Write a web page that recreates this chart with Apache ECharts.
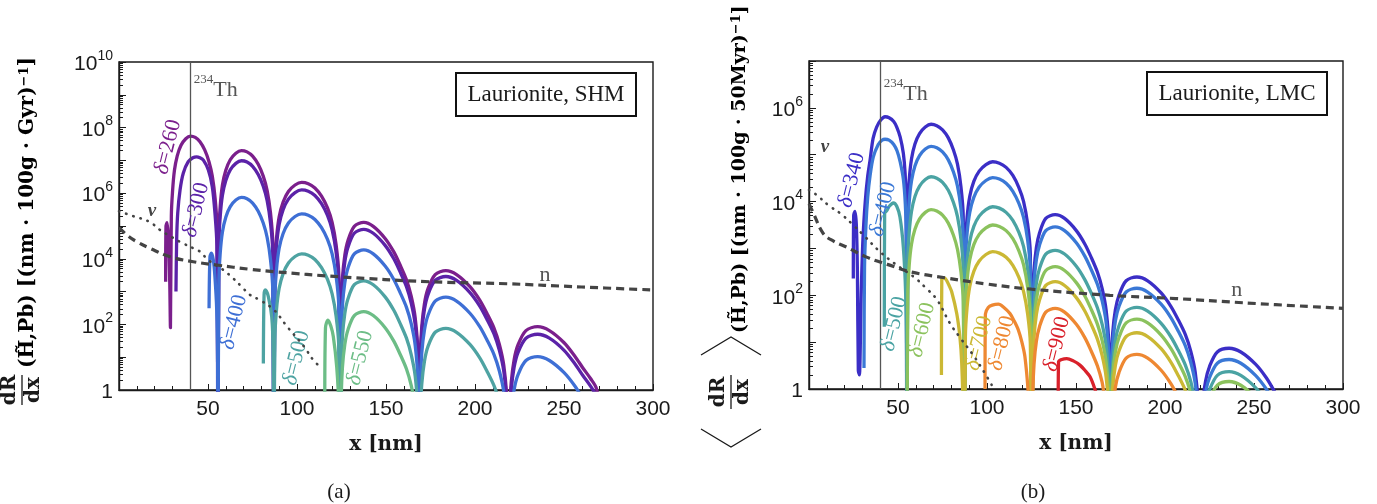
<!DOCTYPE html>
<html><head><meta charset="utf-8">
<script src="https://cdn.jsdelivr.net/npm/echarts@6/dist/echarts.min.js"></script>
<style>html,body{margin:0;padding:0;background:#fff}#c{width:1377px;height:504px}</style>
</head><body><div id="c"></div><script>
// ---- tick labels ----
const xTicks = [0, 50, 100, 150, 200, 250, 300];
const minorMultipliers = [2, 3, 4, 5, 6, 7, 8, 9];
const leftDecades = 10;   // 1 .. 1e10
const rightDecades = 7;   // 1 .. 1e7
const leftLabelExps = [0, 2, 4, 6, 8, 10];
const rightLabelExps = [0, 2, 4, 6];

// ---- curves: [x (nm), log10 of rate] ----
// panel (a) Laurionite, SHM
const shm260 = [[26.2,3.3],[26.4,5.0],[27.0,5.1],[27.8,4.6],[28.5,3.3],[28.9,1.9],
[29.4,5.3],[30.06,6.04],[31.13,6.69],[32.72,7.14],[34.85,7.46],[37.51,7.66],[40.17,7.74],[42.83,7.70],[45.49,7.57],[48.15,7.32],[50.55,6.96],[52.41,6.52],[54.0,5.84],[55.07,4.94],[55.6,-3],
[56.07,4.70],[56.86,5.60],[58.11,6.25],[60.0,6.70],[62.51,7.02],[65.65,7.22],[68.79,7.30],[71.93,7.26],[75.07,7.13],[78.21,6.88],[81.03,6.52],[83.23,6.08],[85.12,5.40],[86.37,4.50],[87.0,-3],
[87.56,3.73],[88.49,4.63],[89.98,5.28],[92.21,5.73],[95.18,6.05],[98.9,6.25],[102.62,6.33],[106.34,6.29],[110.06,6.16],[113.78,5.91],[117.13,5.55],[119.74,5.11],[121.97,4.43],[123.46,3.53],[124.2,-3],
[124.87,2.51],[125.53,3.41],[126.86,4.11],[128.64,4.56],[132.19,4.99],[137.52,5.11],[142.85,4.99],[149.51,4.62],[154.39,4.21],[157.94,3.81],[161.5,3.36],[164.16,2.86],[166.38,2.21],[167.93,1.11],[168.6,-3],
[169.35,1.04],[170.1,1.94],[171.61,2.64],[173.61,3.09],[177.62,3.52],[183.63,3.64],[189.64,3.52],[197.16,3.15],[202.67,2.74],[206.68,2.34],[210.68,1.89],[213.69,1.39],[216.2,0.74],[217.95,-0.36],[218.7,-3],
[219.53,-0.67],[220.35,0.23],[222.0,0.93],[224.2,1.38],[228.6,1.81],[235.2,1.93],[241.8,1.81],[250.05,1.44],[256.1,1.03],[260.5,0.68],[264.9,0.35],[268.2,0.05],[270.95,-0.8]];
const shm300 = [[32.0,3.0],[32.4,4.6],[33.0,5.4],[34.3,6.1],[36.1,6.61],[38.9,6.96],[41.5,7.08],[43.6,7.11],[45.5,7.08],[47.4,7.01],[50.2,6.71],[52.4,6.2],[53.9,5.4],[55.0,4.4],[55.6,-3],
[56.07,4.39],[56.86,5.29],[58.11,5.94],[60.0,6.39],[62.51,6.71],[65.65,6.91],[68.79,6.99],[71.93,6.95],[75.07,6.82],[78.21,6.57],[81.03,6.21],[83.23,5.77],[85.12,5.09],[86.37,4.19],[87.0,-3],
[87.56,3.50],[88.49,4.40],[89.98,5.05],[92.21,5.50],[95.18,5.82],[98.9,6.02],[102.62,6.10],[106.34,6.06],[110.06,5.93],[113.78,5.68],[117.13,5.32],[119.74,4.88],[121.97,4.20],[123.46,3.30],[124.2,-3],
[124.87,2.30],[125.53,3.20],[126.86,3.90],[128.64,4.35],[132.19,4.78],[137.52,4.90],[142.85,4.78],[149.51,4.41],[154.39,4.00],[157.94,3.60],[161.5,3.15],[164.16,2.65],[166.38,2.00],[167.93,0.90],[168.6,-3],
[169.35,0.86],[170.1,1.76],[171.61,2.46],[173.61,2.91],[177.62,3.34],[183.63,3.46],[189.64,3.34],[197.16,2.97],[202.67,2.56],[206.68,2.16],[210.68,1.71],[213.69,1.21],[216.2,0.56],[217.95,-0.54],[218.7,-3],
[219.53,-0.9],[220.35,0.0],[222.0,0.70],[224.2,1.15],[228.6,1.58],[235.2,1.70],[241.8,1.58],[250.05,1.21],[256.1,0.80],[260.5,0.45],[264.9,0.12],[268.2,-0.2],[270.95,-0.9]];
const shm400 = [[50.6,2.49],[51.1,4.06],[51.9,4.17],[53.0,3.96],[53.9,3.45],[54.9,2.44],[55.4,0.9],[55.6,-3],
[56.07,3.27],[56.86,4.17],[58.11,4.82],[60.0,5.27],[62.51,5.59],[65.65,5.79],[68.79,5.87],[71.93,5.83],[75.07,5.70],[78.21,5.45],[81.03,5.09],[83.23,4.65],[85.12,3.97],[86.37,3.07],[87.0,-3],
[87.56,2.77],[88.49,3.67],[89.98,4.32],[92.21,4.77],[95.18,5.09],[98.9,5.29],[102.62,5.37],[106.34,5.33],[110.06,5.20],[113.78,4.95],[117.13,4.59],[119.74,4.15],[121.97,3.47],[123.46,2.57],[124.2,-3],
[124.87,1.67],[125.53,2.57],[126.86,3.27],[128.64,3.72],[132.19,4.15],[137.52,4.27],[142.85,4.15],[149.51,3.78],[154.39,3.37],[157.94,2.97],[161.5,2.52],[164.16,2.02],[166.38,1.37],[167.93,0.27],[168.6,-3],
[169.35,0.23],[170.1,1.13],[171.61,1.83],[173.61,2.28],[177.62,2.71],[183.63,2.83],[189.64,2.71],[197.16,2.34],[202.67,1.93],[206.68,1.53],[210.68,1.08],[213.69,0.58],[216.2,-0.07],[217.95,-1.17],[218.7,-3],
[220.35,-0.68],[222.0,0.02],[224.2,0.47],[228.6,0.90],[235.2,1.02],[241.8,0.90],[250.05,0.53],[256.1,0.12],[260.5,-0.28],[264.9,-0.8]];
const shm500 = [[81.1,0.81],[81.5,2.9],[82.2,3.05],[83.9,2.85],[85.8,2.24],[86.6,1.2],[87.0,-3],
[87.56,1.55],[88.49,2.45],[89.98,3.10],[92.21,3.55],[95.18,3.87],[98.9,4.07],[102.62,4.15],[106.34,4.11],[110.06,3.98],[113.78,3.73],[117.13,3.37],[119.74,2.93],[121.97,2.25],[123.46,1.35],[124.2,-3],
[124.87,0.73],[125.53,1.63],[126.86,2.33],[128.64,2.78],[132.19,3.21],[137.52,3.33],[142.85,3.21],[149.51,2.84],[154.39,2.43],[157.94,2.03],[161.5,1.58],[164.16,1.08],[166.38,0.43],[167.93,-0.67],[168.6,-3],
[169.35,-0.72],[170.1,0.18],[171.61,0.88],[173.61,1.33],[177.62,1.76],[183.63,1.88],[189.64,1.76],[197.16,1.39],[202.67,0.98],[206.68,0.58],[210.68,0.13],[213.69,-0.37],[216.2,-1.0]];
const shm550 = [[115.6,-0.5],[116.0,1.9],[117.4,2.13],[119.0,1.95],[120.4,1.63],[122.3,0.71],[123.5,-0.5],[124.2,-3],
[124.87,-0.21],[125.53,0.69],[126.86,1.39],[128.64,1.84],[132.19,2.27],[137.52,2.39],[142.85,2.27],[149.51,1.90],[154.39,1.49],[157.94,1.09],[161.5,0.64],[164.16,0.14],[166.38,-0.51]];
const shmN = [[0,4.95],[5,4.7],[10,4.52],[17.4,4.32],[28.7,4.06],[41.7,3.91],[54.9,3.81],[73.6,3.68],[86.7,3.61],[124.2,3.45],[174.7,3.30],[217.8,3.24],[260,3.14],[300,3.05]];
const shmNu = [[0,5.45],[8,5.3],[17.4,5.12],[23,4.88],[30,4.65],[36,4.47],[41.8,4.32],[45.5,4.22],[50.2,3.96],[58.6,3.66],[64.2,3.40],[68.9,3.15],[73.6,2.9],[79.2,2.74],[87.1,2.44],[94.5,1.93],[104,1.32],[109.2,0.91],[114,0.66]];

// panel (b) Laurionite, LMC
const lmc340 = [[24.9,2.36],[25.1,3.7],[25.8,3.79],[26.6,3.5],[27.2,2.5],[27.7,0.4],[28.3,0.3],[29.3,2.0],[30.3,3.2],[31.6,4.0],[33.0,4.55],[34.3,4.88],[36.0,5.35],[38.0,5.59],[40.3,5.74],[42.7,5.81],[45.0,5.79],[47.6,5.71],[49.3,5.59],[51.2,5.38],[53.0,5.03],[54.0,4.6],[54.6,3.9],[55.0,-3],
[55.48,3.83],[56.29,4.46],[57.58,4.91],[59.52,5.23],[62.11,5.45],[65.34,5.59],[68.57,5.65],[71.8,5.62],[75.03,5.53],[78.26,5.36],[81.16,5.10],[83.42,4.80],[85.36,4.32],[86.65,3.69],[87.3,-3],
[87.87,3.03],[88.81,3.66],[90.32,4.11],[92.59,4.43],[95.62,4.65],[99.4,4.79],[103.18,4.85],[106.96,4.82],[110.74,4.73],[114.52,4.56],[117.92,4.30],[120.56,4.00],[122.83,3.52],[124.34,2.89],[125.1,-3],
[125.76,1.90],[126.42,2.53],[127.74,3.02],[129.5,3.33],[133.02,3.64],[138.3,3.72],[143.58,3.64],[150.18,3.38],[155.02,3.09],[158.54,2.81],[162.06,2.49],[164.7,2.14],[166.9,1.69],[168.44,0.92],[169.1,-3],
[169.86,0.57],[170.61,1.20],[172.12,1.69],[174.14,2.00],[178.17,2.31],[184.22,2.39],[190.27,2.31],[197.83,2.05],[203.37,1.76],[207.4,1.48],[211.44,1.16],[214.46,0.81],[216.98,0.36],[218.74,-0.41],[219.5,-3],
[220.33,-0.95],[221.15,-0.32],[222.8,0.17],[225.0,0.48],[229.4,0.79],[236.0,0.87],[242.6,0.79],[250.85,0.53],[256.9,0.24],[261.3,-0.04],[265.7,-0.36]];
const lmc400 = [[30.9,0.45],[31.2,2.6],[32.0,3.5],[33.0,4.1],[34.3,4.55],[36.1,4.95],[38.9,5.22],[41.0,5.31],[42.7,5.33],[45.0,5.31],[47.6,5.22],[49.5,5.08],[51.2,4.85],[53.0,4.48],[54.1,3.95],[54.7,3.2],[55.0,-3],
[55.48,3.36],[56.29,3.99],[57.58,4.44],[59.52,4.76],[62.11,4.98],[65.34,5.12],[68.57,5.18],[71.8,5.15],[75.03,5.06],[78.26,4.89],[81.16,4.63],[83.42,4.33],[85.36,3.85],[86.65,3.22],[87.3,-3],
[87.87,2.69],[88.81,3.32],[90.32,3.77],[92.59,4.09],[95.62,4.31],[99.4,4.45],[103.18,4.51],[106.96,4.48],[110.74,4.39],[114.52,4.22],[117.92,3.96],[120.56,3.66],[122.83,3.18],[124.34,2.55],[125.1,-3],
[125.76,1.64],[126.42,2.27],[127.74,2.76],[129.5,3.07],[133.02,3.38],[138.3,3.46],[143.58,3.38],[150.18,3.12],[155.02,2.83],[158.54,2.55],[162.06,2.23],[164.7,1.88],[166.9,1.43],[168.44,0.66],[169.1,-3],
[169.86,0.33],[170.61,0.96],[172.12,1.45],[174.14,1.76],[178.17,2.07],[184.22,2.15],[190.27,2.07],[197.83,1.81],[203.37,1.52],[207.4,1.24],[211.44,0.92],[214.46,0.57],[216.98,0.12],[218.74,-0.65],[219.5,-3],
[221.15,-0.56],[222.8,-0.07],[225.0,0.24],[229.4,0.55],[236.0,0.63],[242.6,0.55],[250.85,0.29],[256.9,0.0],[261.3,-0.28]];
const lmc500 = [[42.3,1.33],[42.5,3.75],[43.6,3.8],[45.1,3.9],[47.4,3.97],[49.3,3.9],[51.1,3.67],[53.0,3.03],[54.3,2.04],[54.8,0.8],[55.0,-3],
[55.48,2.71],[56.29,3.34],[57.58,3.79],[59.52,4.11],[62.11,4.33],[65.34,4.47],[68.57,4.53],[71.8,4.50],[75.03,4.41],[78.26,4.24],[81.16,3.98],[83.42,3.68],[85.36,3.20],[86.65,2.57],[87.3,-3],
[87.87,2.07],[88.81,2.70],[90.32,3.15],[92.59,3.47],[95.62,3.69],[99.4,3.83],[103.18,3.89],[106.96,3.86],[110.74,3.77],[114.52,3.60],[117.92,3.34],[120.56,3.04],[122.83,2.56],[124.34,1.93],[125.1,-3],
[125.76,1.14],[126.42,1.77],[127.74,2.26],[129.5,2.57],[133.02,2.88],[138.3,2.96],[143.58,2.88],[150.18,2.62],[155.02,2.33],[158.54,2.05],[162.06,1.73],[164.7,1.38],[166.9,0.93],[168.44,0.16],[169.1,-3],
[169.86,-0.08],[170.61,0.55],[172.12,1.04],[174.14,1.35],[178.17,1.66],[184.22,1.74],[190.27,1.66],[197.83,1.40],[203.37,1.11],[207.4,0.83],[211.44,0.51],[214.46,0.16],[216.98,-0.29],
[221.15,-0.82],[222.8,-0.33],[225.0,-0.02],[229.4,0.29],[236.0,0.37],[242.6,0.29],[250.85,0.03],[256.9,-0.26]];
const lmc600 = [[55.0,-3],
[55.48,2.01],[56.29,2.64],[57.58,3.09],[59.52,3.41],[62.11,3.63],[65.34,3.77],[68.57,3.83],[71.8,3.80],[75.03,3.71],[78.26,3.54],[81.16,3.28],[83.42,2.98],[85.36,2.50],[86.65,1.87],[87.3,-3],
[87.87,1.68],[88.81,2.31],[90.32,2.76],[92.59,3.08],[95.62,3.30],[99.4,3.44],[103.18,3.50],[106.96,3.47],[110.74,3.38],[114.52,3.21],[117.92,2.95],[120.56,2.65],[122.83,2.17],[124.34,1.54],[125.1,-3],
[125.76,0.79],[126.42,1.42],[127.74,1.91],[129.5,2.22],[133.02,2.53],[138.3,2.61],[143.58,2.53],[150.18,2.27],[155.02,1.98],[158.54,1.70],[162.06,1.38],[164.7,1.03],[166.9,0.58],[168.44,-0.19],[169.1,-3],
[169.86,-0.33],[170.61,0.30],[172.12,0.79],[174.14,1.10],[178.17,1.41],[184.22,1.49],[190.27,1.41],[197.83,1.15],[203.37,0.86],[207.4,0.58],[211.44,0.26],[214.46,-0.09],[216.98,-0.54],
[222.8,-0.54],[225.0,-0.23],[229.4,0.08],[236.0,0.16],[242.6,0.08],[250.85,-0.18]];
const lmc700 = [[74.4,0.3],[74.6,2.36],[76.0,2.37],[77.3,2.32],[78.8,2.2],[80.2,2.07],[83.0,1.61],[84.8,1.1],[85.8,0.55],[86.8,-0.8],[87.3,-3],
[87.87,1.11],[88.81,1.74],[90.32,2.19],[92.59,2.51],[95.62,2.73],[99.4,2.87],[103.18,2.93],[106.96,2.90],[110.74,2.81],[114.52,2.64],[117.92,2.38],[120.56,2.08],[122.83,1.60],[124.34,0.97],[125.1,-3],
[125.76,0.47],[126.42,1.10],[127.74,1.59],[129.5,1.90],[133.02,2.21],[138.3,2.29],[143.58,2.21],[150.18,1.95],[155.02,1.66],[158.54,1.38],[162.06,1.06],[164.7,0.71],[166.9,0.26],[168.44,-0.51],[169.1,-3],
[169.86,-0.62],[170.61,0.01],[172.12,0.50],[174.14,0.81],[178.17,1.12],[184.22,1.20],[190.27,1.12],[197.83,0.86],[203.37,0.57],[207.4,0.29],[211.44,-0.03],[214.46,-0.38]];
const lmc800 = [[98.9,0.0],[99.1,1.6],[100.7,1.74],[103.0,1.79],[106.4,1.81],[109.5,1.74],[112.9,1.61],[115.3,1.45],[117.6,1.26],[119.6,1.0],[121.3,0.69],[123.2,-0.1],[124.3,-1.0],[125.1,-3],
[125.76,-0.10],[126.42,0.53],[127.74,1.02],[129.5,1.33],[133.02,1.64],[138.3,1.72],[143.58,1.64],[150.18,1.38],[155.02,1.09],[158.54,0.81],[162.06,0.49],[164.7,0.14],[166.9,-0.31],
[170.61,-0.45],[172.12,0.04],[174.14,0.35],[178.17,0.66],[184.22,0.74],[190.27,0.66],[197.83,0.40],[203.37,0.11],[207.4,-0.17]];
const lmc900 = [[140.0,-0.3],[140.2,0.58],[142.0,0.63],[144.8,0.65],[148.5,0.6],[152.2,0.51],[155.0,0.4],[157.9,0.26],[160.6,0.0],[162.0,-0.2]];
const lmcN = [[0,3.95],[2.5,3.75],[8,3.32],[14,3.15],[21,3.03],[32,2.82],[44,2.66],[57,2.5],[77,2.37],[100,2.24],[125,2.13],[169,2.0],[206,1.93],[244,1.84],[300,1.72]];
const lmcNu = [[0,4.25],[4.3,4.14],[11,3.92],[17.5,3.75],[24,3.53],[31.5,3.25],[39,2.96],[48,2.68],[59,2.39],[65,2.18],[72,1.9],[79.2,1.4],[84.8,1.1],[92.3,0.72],[98.9,0.33],[102.6,0.09]];

// ---- styling ----
const SERIF = '"Liberation Serif", "DejaVu Serif", serif';
const TSERIF = '"DejaVu Serif", "Liberation Serif", serif';
const SANS = '"Liberation Sans", Arial, sans-serif';
const INK = '#1a1a1a';

function toPts(arr) { return arr.map(p => [p[0], Math.pow(10, p[1])]); }
function pow10List(exps) { return exps.map(e => Math.pow(10, e)); }
function decadeList(decades) { const o = []; for (let e = 0; e <= decades; e++) o.push(Math.pow(10, e)); return o; }
function minorValues(decades) {
  const out = [];
  for (let e = 0; e < decades; e++) minorMultipliers.forEach(m => out.push(m * Math.pow(10, e)));
  return out;
}

function xAxisCfg(gi) {
  return {
    type: 'value', gridIndex: gi, min: xTicks[0], max: xTicks[xTicks.length - 1], interval: 50,
    name: 'x [nm]', nameLocation: 'middle', nameGap: 45,
    nameTextStyle: { fontFamily: TSERIF, fontWeight: 'bold', fontSize: 20, color: INK },
    axisLine: { show: true, lineStyle: { color: INK, width: 1.4 } },
    axisTick: { show: true, inside: true, length: 6, lineStyle: { color: INK, width: 1 } },
    minorTick: { show: true, splitNumber: 5, length: 4, lineStyle: { color: INK, width: 1 } },
    splitLine: { show: false }, minorSplitLine: { show: false },
    axisLabel: { formatter: v => (v === 0 ? '' : String(v)), fontFamily: SANS, fontSize: 21, color: INK, margin: 9 }
  };
}
function yAxisMain(gi, decades, labelExps) {
  return {
    type: 'log', logBase: 10, gridIndex: gi, position: 'left', min: 1, max: Math.pow(10, decades), splitNumber: decades,
    axisLine: { show: true, lineStyle: { color: INK, width: 1.4 } },
    axisTick: { show: true, inside: true, length: 7, customValues: decadeList(decades), lineStyle: { color: INK, width: 1 } },
    splitLine: { show: false },
    axisLabel: {
      margin: 6, color: INK, customValues: pow10List(labelExps),
      formatter: v => {
        const e = Math.round(Math.log10(v));
        return e === 0 ? '{b|1}' : '{b|10}{s|' + e + '}';
      },
      rich: {
        b: { fontFamily: SANS, fontSize: 21, color: INK, padding: [5, 0, 0, 0] },
        s: { fontFamily: SANS, fontSize: 14, color: INK, verticalAlign: 'top', lineHeight: 14 }
      }
    }
  };
}
function yAxisMinor(gi, decades) {
  return {
    type: 'log', logBase: 10, gridIndex: gi, position: 'left', min: 1, max: Math.pow(10, decades),
    axisLine: { show: false }, splitLine: { show: false }, axisLabel: { show: false },
    axisTick: { show: true, inside: true, length: 4, customValues: minorValues(decades), lineStyle: { color: INK, width: 1 } }
  };
}

function deltaLabel(text, color, at) {
  return {
    coord: [at[0], Math.pow(10, at[1])],
    label: {
      show: true, position: 'inside', rotate: 76,
      formatter: '{i|δ}{n|=' + text + '}',
      rich: {
        i: { fontFamily: SERIF, fontStyle: 'italic', fontSize: 22, color: color },
        n: { fontFamily: SERIF, fontSize: 22, color: color }
      }
    }
  };
}
function curve(gi, pts, color, label, at) {
  return {
    type: 'line', xAxisIndex: gi, yAxisIndex: gi * 2, data: toPts(pts),
    showSymbol: false, symbol: 'none', smooth: 0.3, clip: true, z: 3, silent: true,
    lineStyle: { color: color, width: 3.3 },
    markPoint: { symbol: 'circle', symbolSize: 1, itemStyle: { color: 'rgba(0,0,0,0)' }, silent: true,
      data: [deltaLabel(label, color, at)] }
  };
}
function textPoint(at, formatter, rich, position) {
  return { coord: [at[0], Math.pow(10, at[1])],
    label: { show: true, position: position || 'inside', distance: 3, formatter: formatter, rich: rich } };
}
function guide(gi, pts, kind) {
  return {
    type: 'line', xAxisIndex: gi, yAxisIndex: gi * 2, data: toPts(pts),
    showSymbol: false, symbol: 'none', smooth: 0.4, clip: true, z: 5, silent: true,
    lineStyle: kind === 'dash'
      ? { color: '#444', width: 3.2, type: [8, 5] }
      : { color: '#444', width: 2.6, type: [0.5, 7], cap: 'round' }
  };
}

const thRich = { s: { fontFamily: SERIF, fontSize: 13, color: '#555', verticalAlign: 'top', lineHeight: 13 },
                 t: { fontFamily: SERIF, fontSize: 22, color: '#555', padding: [6, 0, 0, 0] } };
const nRich = { t: { fontFamily: SERIF, fontSize: 22, color: '#555' } };
const nuRich = { t: { fontFamily: SERIF, fontStyle: 'italic', fontWeight: 'bold', fontSize: 19, color: '#444' } };

function annotations(gi, thY, nAt, nuAt) {
  return {
    type: 'line', xAxisIndex: gi, yAxisIndex: gi * 2, data: [], silent: true, z: 6,
    markLine: { symbol: ['none', 'none'], silent: true, label: { show: false },
      lineStyle: { color: '#555', width: 1.3, type: 'solid' }, data: [{ xAxis: 40 }] },
    markPoint: { symbol: 'circle', symbolSize: 1, itemStyle: { color: 'rgba(0,0,0,0)' }, silent: true,
      data: [
        textPoint([40, thY], '{s|234}{t|Th}', thRich, 'right'),
        textPoint(nAt, '{t|n}', nRich),
        textPoint(nuAt, '{t|ν}', nuRich)
      ] }
  };
}

const C = {
  p260: '#7b1f8c', p300: '#5b22a8', b400: '#3e6fd5', t500: '#4ea3a2', g550: '#6cbd86',
  r340: '#3b2ec6', r400: '#3a78d6', r500: '#4aa3a3', r600: '#8bc25d', r700: '#cbb834', r800: '#ee8832', r900: '#d9212b'
};

function legendBox(x, y, text) {
  return { type: 'group', x: x, y: y, children: [
    { type: 'rect', shape: { x: 0, y: 0, width: 180, height: 43 }, style: { fill: '#fff', stroke: '#111', lineWidth: 2 } },
    { type: 'text', x: 90, y: 22, style: { text: text, font: '23px ' + SERIF, fill: INK, align: 'center', verticalAlign: 'middle' } }
  ] };
}

const titleBold = 'bold 20px ' + TSERIF;
const mainRich = {
  m: { fontFamily: TSERIF, fontWeight: 'bold', fontSize: 20, color: INK },
  s: { fontFamily: TSERIF, fontWeight: 'bold', fontSize: 13, color: INK, verticalAlign: 'top', lineHeight: 13 }
};
const mainRichB = {
  m: { fontFamily: TSERIF, fontWeight: 'bold', fontSize: 19, color: INK },
  s: { fontFamily: TSERIF, fontWeight: 'bold', fontSize: 13, color: INK, verticalAlign: 'top', lineHeight: 13 }
};

const option = {
  animation: false,
  backgroundColor: '#fff',
  grid: [
    { left: 119, top: 62, width: 534, height: 328, show: true, borderColor: INK, borderWidth: 1.4 },
    { left: 809, top: 61, width: 534, height: 328, show: true, borderColor: INK, borderWidth: 1.4 }
  ],
  xAxis: [xAxisCfg(0), xAxisCfg(1)],
  yAxis: [yAxisMain(0, leftDecades, leftLabelExps), yAxisMinor(0, leftDecades), yAxisMain(1, rightDecades, rightLabelExps), yAxisMinor(1, rightDecades)],
  series: [
    curve(0, shm260, C.p260, '260', [27.5, 7.41]),
    curve(0, shm300, C.p300, '300', [43.3, 5.49]),
    curve(0, shm400, C.b400, '400', [64.6, 2.07]),
    curve(0, shm500, C.t500, '500', [99.7, 0.98]),
    curve(0, shm550, C.g550, '550', [135.4, 0.98]),
    guide(0, shmN, 'dash'),
    guide(0, shmNu, 'dot'),
    annotations(0, 9.24, [239.3, 3.5], [18.5, 5.46]),

    curve(1, lmc340, C.r340, '340', [24.0, 4.46]),
    curve(1, lmc400, C.r400, '400', [41.6, 3.84]),
    curve(1, lmc500, C.r500, '500', [47.8, 1.39]),
    curve(1, lmc600, C.r600, '600', [63.5, 1.26]),
    curve(1, lmc700, C.r700, '700', [95.5, 0.98]),
    curve(1, lmc800, C.r800, '800', [108.3, 0.98]),
    curve(1, lmc900, C.r900, '900', [139.2, 0.96]),
    guide(1, lmcN, 'dash'),
    guide(1, lmcNu, 'dot'),
    annotations(1, 6.35, [240.3, 2.11], [9.0, 5.16])
  ],
  graphic: [
    legendBox(456, 73, 'Laurionite, SHM'),
    legendBox(1147, 72, 'Laurionite, LMC'),
    // y title (a)
    { type: 'group', x: 22, y: 410, rotation: Math.PI / 2, children: [
      { type: 'text', x: 20, y: -2, style: { text: 'dR', font: titleBold, fill: INK, align: 'center', verticalAlign: 'bottom' } },
      { type: 'line', shape: { x1: 5, y1: 0, x2: 35, y2: 0 }, style: { stroke: INK, lineWidth: 1.3 } },
      { type: 'text', x: 20, y: 2, style: { text: 'dx', font: titleBold, fill: INK, align: 'center', verticalAlign: 'top' } },
      { type: 'text', x: 42, y: 6, style: { text: '{m|(H\u0303,Pb) [(nm · 100g · Gyr)}{s|−1}{m|]}', rich: mainRich, align: 'left', verticalAlign: 'middle' } }
    ] },
    // y title (b)
    { type: 'group', x: 731, y: 447, rotation: Math.PI / 2, children: [
      { type: 'polyline', shape: { points: [[18, -30], [0, 0], [18, 30]] }, style: { stroke: INK, lineWidth: 1.3, fill: null } },
      { type: 'text', x: 55, y: -2, style: { text: 'dR', font: titleBold, fill: INK, align: 'center', verticalAlign: 'bottom' } },
      { type: 'line', shape: { x1: 38, y1: 0, x2: 72, y2: 0 }, style: { stroke: INK, lineWidth: 1.3 } },
      { type: 'text', x: 55, y: 2, style: { text: 'dx', font: titleBold, fill: INK, align: 'center', verticalAlign: 'top' } },
      { type: 'polyline', shape: { points: [[92, -30], [110, 0], [92, 30]] }, style: { stroke: INK, lineWidth: 1.3, fill: null } },
      { type: 'text', x: 114, y: 9, style: { text: '{m|(H\u0303,Pb) [(nm · 100g · 50Myr)}{s|−1}{m|]}', rich: mainRichB, align: 'left', verticalAlign: 'middle' } }
    ] },
    { type: 'text', x: 339, y: 492, style: { text: '(a)', font: '21px ' + SERIF, fill: INK, align: 'center', verticalAlign: 'middle' } },
    { type: 'text', x: 1033, y: 492, style: { text: '(b)', font: '21px ' + SERIF, fill: INK, align: 'center', verticalAlign: 'middle' } }
  ]
};

const chart = echarts.init(document.getElementById('c'));
chart.setOption(option);
</script></body></html>
